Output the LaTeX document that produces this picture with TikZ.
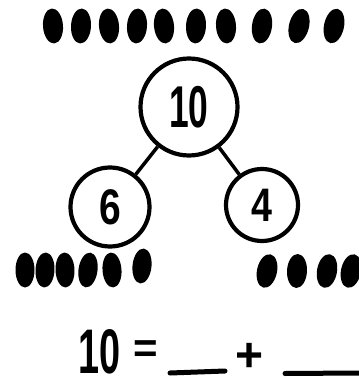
\documentclass[tikz,border=0pt]{standalone}
\usepackage{fontspec}
\newfontfamily\handfont{Liberation Sans}
\usetikzlibrary{positioning}

\tikzset{
  numcircle/.style={circle, draw, line width=4.2pt, inner sep=0pt, font=\handfont\bfseries},
  link/.style={line width=3.5pt},
  counter/.style={fill=black},
  blank/.style={line width=5pt, line cap=round}
}

\begin{document}
\begin{tikzpicture}[x=1pt, y=-1pt]
    \useasboundingbox (0,0) rectangle (358,379);

    % ten counters on top
    \foreach \x/\r in {53/4, 81/-3, 109/5, 137/-4, 164/6, 196/-3, 226/4, 262/-8, 299/-14, 334/-12}
      \fill[counter, rotate around={\r:(\x,26)}] (\x,26) ellipse (10 and 17.5);

    % number bond: whole on top, parts below
    \node[numcircle, minimum size=97pt] (ten) at (189,107)
      {\fontsize{59}{59}\selectfont\scalebox{0.6}[1]{10}};
    \node[numcircle, minimum size=79pt] (six) at (110,207)
      {\fontsize{50}{50}\selectfont\scalebox{0.78}[1]{6}};
    \node[numcircle, minimum size=72pt] (four) at (262,205)
      {\fontsize{47}{47}\selectfont\scalebox{0.8}[1]{4}};

    \draw[link] (ten) -- (six);
    \draw[link] (ten) -- (four);

    % six counters left, four counters right
    \foreach \x/\y/\r in {25/270/0, 45/270/-3, 65/270/2, 88/270/-8, 112/270/4, 142/266/-6}
      \fill[counter, rotate around={\r:(\x,\y)}] (\x,\y) ellipse (9.5 and 17.5);
    \foreach \x/\r in {267/-12, 297/-3, 327/-10, 351/-12}
      \fill[counter, rotate around={\r:(\x,271)}] (\x,271) ellipse (10 and 17);

    % number sentence
    \node[inner sep=0pt, anchor=base, font=\handfont\bfseries] (whole) at (99.5,373)
      {\fontsize{63}{63}\selectfont\scalebox{0.6}[1]{10}};
    \node[inner sep=0pt, font=\handfont\bfseries] (eq) at (146,352)
      {\fontsize{42}{42}\selectfont =};
    \node[inner sep=0pt, font=\handfont\bfseries] (plus) at (250,357)
      {\fontsize{48}{48}\selectfont +};
    \draw[blank] (170,373) -- (225,371);
    \draw[blank] (285,373.5) -- (360,373);
\end{tikzpicture}
\end{document}
